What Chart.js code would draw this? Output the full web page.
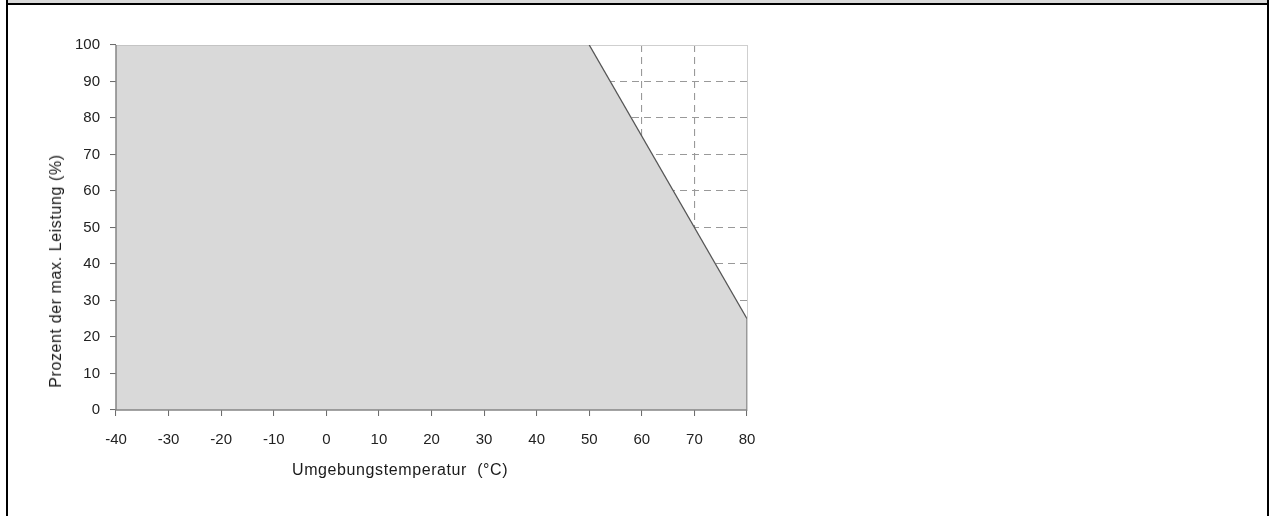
<!DOCTYPE html>
<html>
<head>
<meta charset="utf-8">
<script src="https://cdn.jsdelivr.net/npm/chart.js@4/dist/chart.umd.min.js"></script>
<style>
    body { margin: 0; background: #fff; font-family: "Liberation Sans", Arial, sans-serif; }
    #frame {
        position: absolute; left: 6px; top: 0; width: 1259px; height: 516px;
        border-left: 2px solid #000; border-right: 2px solid #000;
    }
    #head { height: 3px; background: #d9d9d9; border-bottom: 2px solid #000; }
    #wrap { position: absolute; left: 8px; top: 5px; width: 800px; height: 470px; }
    .axis-title { position: absolute; font-size: 16px; letter-spacing: 0.6px; color: #1a1a1a; white-space: pre; line-height: 16px; }
    #xTitle { left: 292px; top: 462px; }
    #yTitle { left: 56px; top: 271px; transform: translate(-50%, -50%) rotate(-90deg); }
</style>
</head>
<body>
<div id="frame"><div id="head"></div></div>
<div id="wrap"><canvas id="derating"></canvas></div>
<div class="axis-title" id="xTitle">Umgebungstemperatur  (°C)</div>
<div class="axis-title" id="yTitle">Prozent der max. Leistung (%)</div>

<script>
const TEMP_MIN  = -40;
const TEMP_MAX  = 80;
const POWER_MIN = 0;
const POWER_MAX = 100;

// derating curve corners (temperature in °C, power in %)
const temps  = [-40, 50, 80, 80];
const powers = [100, 100, 25, 0];

const FILL_GREY  = '#d9d9d9';
const GRID_COLOR = '#999';
const FRAME      = '#cfcfcf';
const AXIS_COLOR = '#858585';

const points = temps.map((t, i) => ({ x: t, y: powers[i] }));

const tickFont = { family: 'Liberation Sans', size: 15 };

// no dashed line on the plot edges, the frame/axis lines sit there
const innerGrid = (lo, hi) => c =>
    (c.tick && (c.tick.value === lo || c.tick.value === hi)) ? 'rgba(0,0,0,0)' : GRID_COLOR;

// solid left + bottom axis lines drawn over the grey area
const axisLines = {
    id: 'axisLines',
    afterDatasetsDraw(chart) {
        const { ctx, chartArea: a } = chart;
        ctx.save();
        ctx.strokeStyle = AXIS_COLOR;
        ctx.lineWidth = 1.5;
        ctx.beginPath();
        ctx.moveTo(a.left, a.top);
        ctx.lineTo(a.left, a.bottom);
        ctx.lineTo(a.right, a.bottom);
        ctx.stroke();
        ctx.restore();
    }
};

new Chart(document.getElementById('derating'), {
    type: 'line',
    data: {
        datasets: [
            {
                // outline (drawn on top)
                label: 'Leistung',
                data: points,
                fill: false,
                borderWidth: 1.3,
                pointRadius: 0,
                tension: 0,
                segment: {
                    borderColor: ctx => ctx.p0DataIndex === 0 ? '#bdbdbd'
                                      : ctx.p0DataIndex === 1 ? '#555' : '#777'
                }
            },
            {
                // grey area under the curve
                label: 'Bereich',
                data: points,
                fill: 'origin',
                backgroundColor: FILL_GREY,
                borderWidth: 0,
                pointRadius: 0,
                tension: 0
            }
        ]
    },
    options: {
        responsive: true,
        maintainAspectRatio: false,
        animation: false,
        layout: { padding: { top: 40, right: 61, left: 0, bottom: 0 } },
        plugins: { legend: { display: false }, tooltip: { enabled: false } },
        scales: {
            x: {
                type: 'linear',
                position: 'bottom',
                min: TEMP_MIN, max: TEMP_MAX,
                afterFit: s => { s.height = 65; },
                ticks: { stepSize: 10, padding: 15, color: '#222', font: tickFont },
                grid: {
                    color: innerGrid(TEMP_MIN, TEMP_MAX), lineWidth: 1.1,
                    drawTicks: true, tickLength: 6, tickColor: '#666', tickBorderDash: [], tickWidth: 1
                },
                border: { display: false, dash: [7, 5] }
            },
            y: {
                position: 'left',
                min: POWER_MIN, max: POWER_MAX,
                afterFit: s => { s.width = 108; },
                ticks: { stepSize: 10, padding: 10, color: '#222', font: tickFont },
                grid: {
                    color: innerGrid(POWER_MIN, POWER_MAX), lineWidth: 1.1,
                    drawTicks: true, tickLength: 6, tickColor: '#666', tickBorderDash: [], tickWidth: 1
                },
                border: { display: false, dash: [7, 5] }
            },
            // light frame on top and right
            xTop: {
                type: 'linear', position: 'top', min: TEMP_MIN, max: TEMP_MAX,
                afterFit: s => { s.height = 0; },
                ticks: { display: false },
                grid: { display: false },
                border: { display: true, color: FRAME, width: 1 }
            },
            yRight: {
                type: 'linear', position: 'right', min: POWER_MIN, max: POWER_MAX,
                afterFit: s => { s.width = 0; },
                ticks: { display: false },
                grid: { display: false },
                border: { display: true, color: FRAME, width: 1 }
            }
        }
    },
    plugins: [axisLines]
});
</script>
</body>
</html>
